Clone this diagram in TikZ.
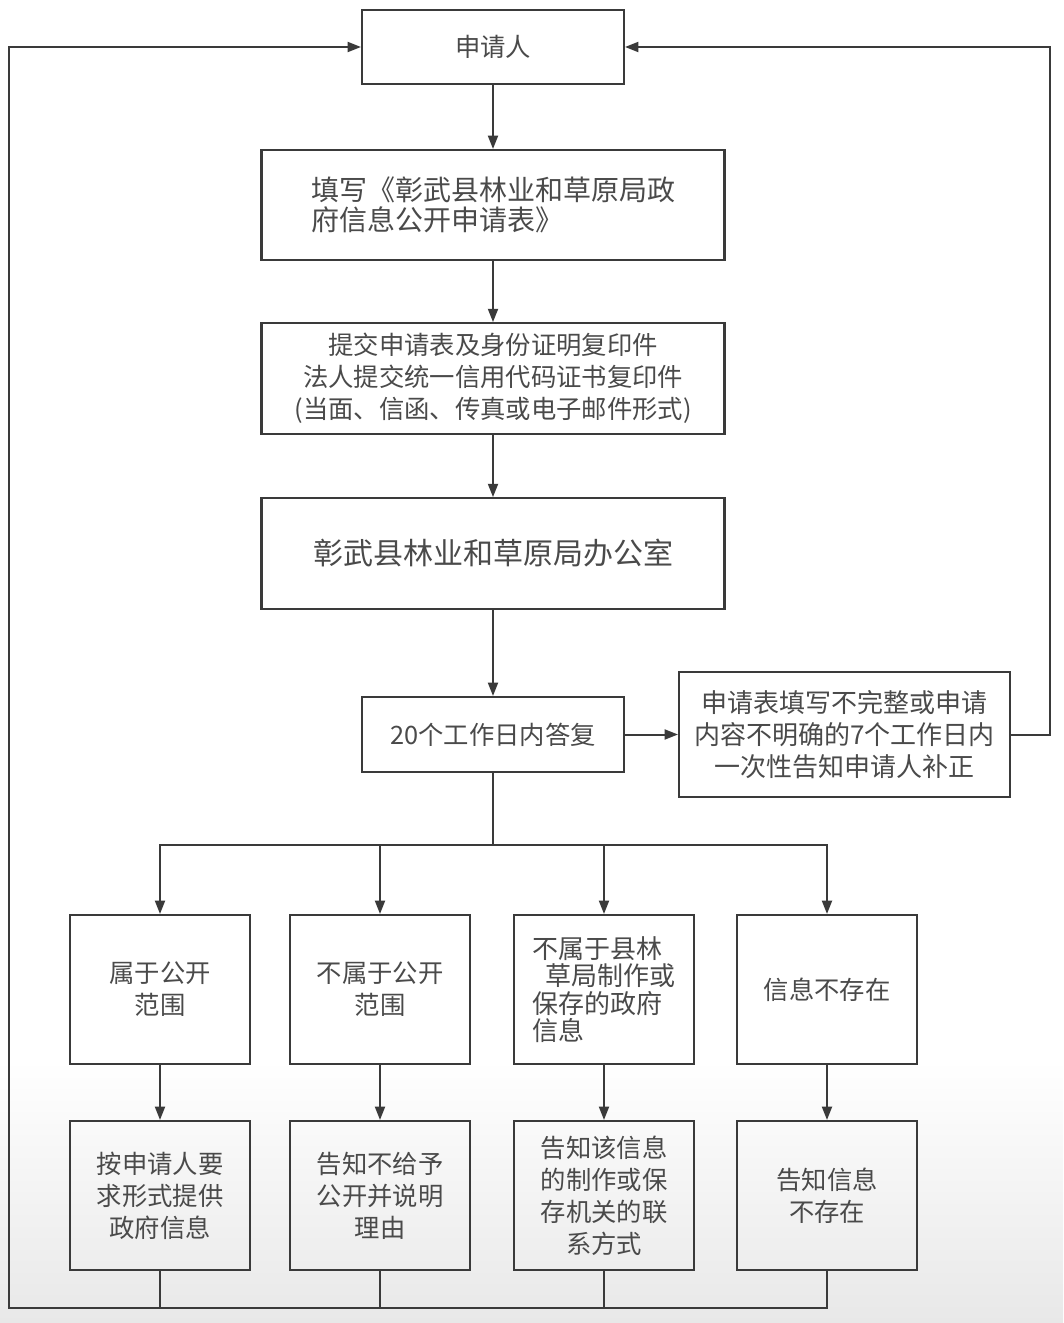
\documentclass[tikz,border=0pt]{standalone}
\usepackage{fontspec}
\setmainfont{Noto Sans CJK SC}
\usetikzlibrary{arrows.meta}
\definecolor{ln}{HTML}{3A3A3A}
\definecolor{tx}{HTML}{4A4A4A}
\begin{document}
\begin{tikzpicture}[x=0.75pt,y=-0.75pt,
  box/.style={draw=ln, line width=1.6pt, text=tx, inner sep=0pt, align=center},
  wide/.style={box, minimum width=347.25pt, minimum height=83pt},
  small/.style={box, minimum width=135pt, minimum height=111.75pt, font=\fontsize{19}{24}\selectfont},
  conn/.style={draw=ln, line width=1.5pt},
  arr/.style={conn, -{Triangle[length=10pt,width=7.5pt]}}]
\fill[white] (0,0) rectangle (1063,1323);
\shade[top color=white, bottom color=gray!18] (0,1060) rectangle (1063,1323);
\useasboundingbox (0,0) rectangle (1063,1323);

\node[box, minimum width=196.5pt, minimum height=55.5pt, font=\fontsize{19}{24}\selectfont] (A) at (493,47) {申请人};
\node[wide, minimum height=82.5pt, align=left, font=\fontsize{21}{22.5}\selectfont] (B) at (493,205) {填写《彰武县林业和草原局政\\府信息公开申请表》};
\node[wide, font=\fontsize{19}{24}\selectfont] (C) at (493,378.5) {提交申请表及身份证明复印件\\法人提交统一信用代码证书复印件\\(当面、信函、传真或电子邮件形式)};
\node[wide, font=\fontsize{22.5}{26}\selectfont] (D) at (493,553.5) {彰武县林业和草原局办公室};
\node[box, minimum width=196.5pt, minimum height=56.25pt, font=\fontsize{19}{24}\selectfont] (E) at (493,734.5) {20个工作日内答复};
\node[box, minimum width=248.25pt, minimum height=93.75pt, font=\fontsize{19.5}{24}\selectfont] (F) at (844.5,734.5) {申请表填写不完整或申请\\内容不明确的7个工作日内\\一次性告知申请人补正};

\node[small] (P1) at (160,989.5) {属于公开\\范围};
\node[small] (P2) at (380,989.5) {不属于公开\\范围};
\node[small, align=left, font=\fontsize{19.5}{20.5}\selectfont] (P3) at (604,989.5) {不属于县林\\\hspace{0.5em}草局制作或\\保存的政府\\信息};
\node[small] (P4) at (827,989.5) {信息不存在};

\node[small] (Q1) at (160,1195.5) {按申请人要\\求形式提供\\政府信息};
\node[small] (Q2) at (380,1195.5) {告知不给予\\公开并说明\\理由};
\node[small] (Q3) at (604,1195.5) {告知该信息\\的制作或保\\存机关的联\\系方式};
\node[small] (Q4) at (827,1195.5) {告知信息\\不存在};

\coordinate (rt) at (1050,47);
\coordinate (br) at (493,845);
\coordinate (bl) at (9,1308);

\draw[arr] (A.south) -- (B.north);
\draw[arr] (B.south) -- (C.north);
\draw[arr] (C.south) -- (D.north);
\draw[arr] (D.south) -- (E.north);
\draw[arr] (E.east) -- (F.west);
\draw[arr] (F.east) -| (rt) -- (A.east);

\draw[conn] (E.south) -- (br);
\draw[arr] (br) -| (P1.north);
\draw[arr] (br) -| (P2.north);
\draw[arr] (br) -| (P3.north);
\draw[arr] (br) -| (P4.north);

\draw[arr] (P1.south) -- (Q1.north);
\draw[arr] (P2.south) -- (Q2.north);
\draw[arr] (P3.south) -- (Q3.north);
\draw[arr] (P4.south) -- (Q4.north);

\draw[conn] (Q1.south) -- (Q1.south |- bl);
\draw[conn] (Q2.south) -- (Q2.south |- bl);
\draw[conn] (Q3.south) -- (Q3.south |- bl);
\draw[arr] (Q4.south) |- (bl) |- (A.west);
\end{tikzpicture}
\end{document}
